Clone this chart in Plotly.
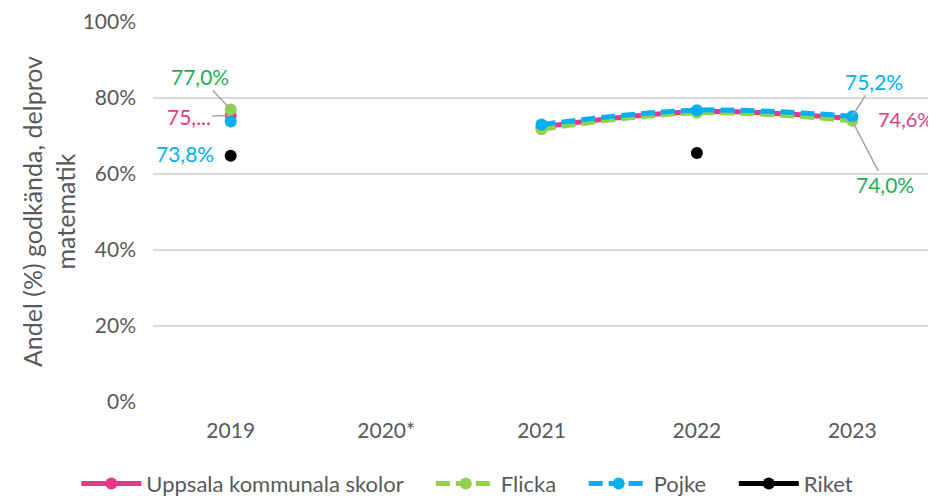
import plotly.graph_objects as go

years = ["2019", "2020*", "2021", "2022", "2023"]
uppsala = [75.4, None, 72.4, 76.4, 74.6]
flicka = [77.0, None, 71.8, 76.1, 74.0]
pojke = [73.8, None, 73.0, 76.8, 75.2]
riket = [64.8, None, None, 65.5, None]
series_names = ["Uppsala kommunala skolor", "Flicka", "Pojke", "Riket"]
y_title = "Andel (%) godkända, delprov<br>matematik"

PINK = "#E8378A"
GREEN = "#92D050"
GREEN_TXT = "#1DB04F"
BLUE = "#00B0F0"
BLACK = "#000000"
GREY = "#595959"
FONT = "Lato"
FS = 21
PAD = "\u00a0" * 4

def pct(v):
    return f"{v:.1f}%".replace(".", ",")

fig = go.Figure()
fig.add_trace(go.Scatter(x=years, y=uppsala, name=series_names[0] + PAD, mode="lines+markers",
                         line=dict(color=PINK, width=5, shape="spline"), marker=dict(size=12, color=PINK)))
fig.add_trace(go.Scatter(x=years, y=flicka, name=series_names[1] + PAD, mode="lines+markers",
                         line=dict(color=GREEN, width=5, dash="14px,6px", shape="spline"), marker=dict(size=12, color=GREEN)))
fig.add_trace(go.Scatter(x=years, y=pojke, name=series_names[2] + PAD, mode="lines+markers",
                         line=dict(color=BLUE, width=5, dash="14px,6px", shape="spline"), marker=dict(size=12, color=BLUE)))
fig.add_trace(go.Scatter(x=years, y=riket, name=series_names[3], mode="lines+markers",
                         line=dict(color=BLACK, width=5), marker=dict(size=12, color=BLACK)))

ann = []
lc = "#A6A6A6"
first, last = 0, len(years) - 1
# 2019
ann.append(dict(x=first, y=flicka[0], text=pct(flicka[0]), showarrow=True, ax=-31, ay=-33,
                arrowhead=0, arrowwidth=1.5, arrowcolor=lc, font=dict(color=GREEN_TXT, size=FS, family=FONT)))
ann.append(dict(x=first, y=uppsala[0], text="75,...", showarrow=True, ax=-42, ay=1,
                arrowhead=0, arrowwidth=1.5, arrowcolor=lc, font=dict(color=PINK, size=FS, family=FONT)))
ann.append(dict(x=first, y=pojke[0], text=pct(pojke[0]), showarrow=False, xshift=-46, yshift=-32,
                font=dict(color=BLUE, size=FS, family=FONT)))
# 2023
ann.append(dict(x=last, y=pojke[4], text=pct(pojke[4]), showarrow=True, ax=22, ay=-35,
                arrowhead=0, arrowwidth=1.5, arrowcolor=lc, font=dict(color=BLUE, size=FS, family=FONT)))
ann.append(dict(x=last, y=uppsala[4], text=pct(uppsala[4]), showarrow=False, xshift=53, yshift=0,
                font=dict(color=PINK, size=20, family=FONT)))
ann.append(dict(x=last, y=flicka[4], text=pct(flicka[4]), showarrow=True, ax=33, ay=64,
                arrowhead=0, arrowwidth=1.5, arrowcolor=lc, font=dict(color=GREEN_TXT, size=FS, family=FONT)))
# y-axis title as a rotated annotation
ann.append(dict(x=-0.135, y=0.5, xref="paper", yref="paper", text=y_title, textangle=-90,
                showarrow=False, xanchor="center", yanchor="middle",
                font=dict(color=GREY, size=25, family=FONT)))

# page body has an 8px margin, so the figure is 928x488 and offset by 8px
fig.update_layout(
    width=928, height=488,
    margin=dict(l=145, r=6, t=14, b=94, autoexpand=False),
    paper_bgcolor="white", plot_bgcolor="white",
    font=dict(family=FONT, color=GREY, size=FS),
    annotations=ann,
    showlegend=True,
    legend=dict(orientation="h", x=0.495, xanchor="center", xref="container",
                y=-0.215, yanchor="middle", yref="paper",
                font=dict(size=22, color=GREY, family=FONT), itemwidth=60),
    xaxis=dict(type="category", categoryorder="array", categoryarray=years, range=[-0.5, 4.5],
               showgrid=False, showline=False, ticks="", ticklabelstandoff=14, automargin=False,
               tickfont=dict(size=FS, color=GREY)),
    yaxis=dict(range=[0, 100], dtick=20, ticksuffix="%", showgrid=True, gridcolor="#D9D9D9", gridwidth=1.5,
               zeroline=False, showline=False, ticklabelstandoff=16, automargin=False,
               tickfont=dict(size=FS, color=GREY)),
)

fig.write_html("out.html")
